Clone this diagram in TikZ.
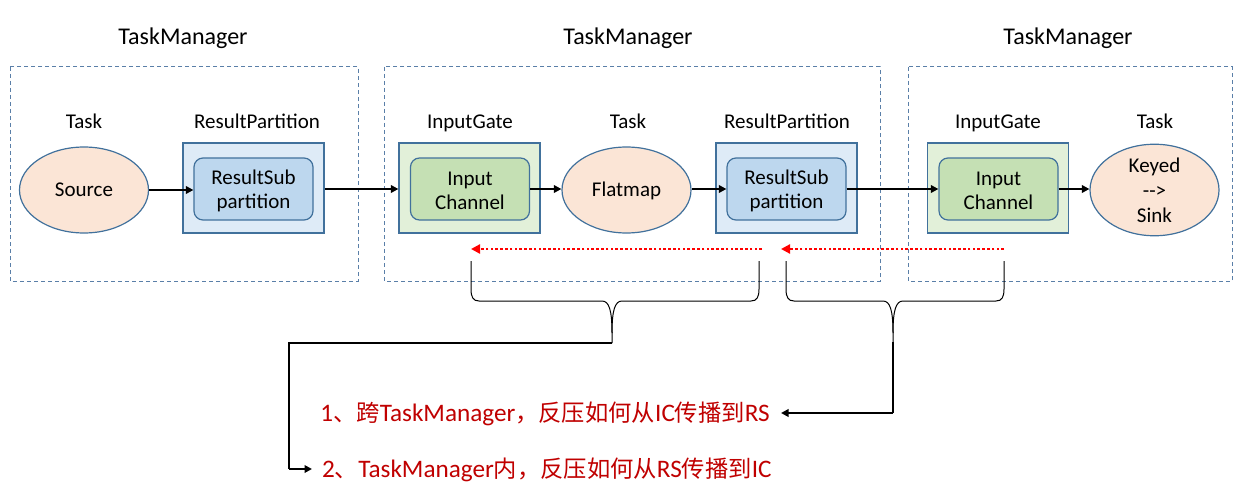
\documentclass[tikz,border=0pt]{standalone}
\usepackage{fontspec}
\setmainfont{Carlito}
\newfontfamily\cjk{Noto Sans CJK SC}
\usetikzlibrary{arrows.meta,shapes.geometric}
\definecolor{bordc}{HTML}{41719C}
\definecolor{dashc}{HTML}{5A7FA8}
\definecolor{peach}{HTML}{FBE5D6}
\definecolor{blueout}{HTML}{DEEBF7}
\definecolor{bluein}{HTML}{BDD7EE}
\definecolor{greenout}{HTML}{E2F0D9}
\definecolor{greenin}{HTML}{C5E0B4}
\definecolor{darkred}{HTML}{C00000}
\newcommand\zh[1]{{\fontsize{23.3}{26}\cjk #1}}
\tikzset{
  tmbox/.style={draw=dashc, line width=1pt, dash pattern=on 4pt off 3pt},
  tmlabel/.style={font=\fontsize{24}{28}\selectfont, inner sep=0pt, anchor=base},
  sublabel/.style={font=\fontsize{21}{24}\selectfont, inner sep=0pt, anchor=base},
  taskell/.style={ellipse, draw=bordc, fill=peach, line width=1.2pt, minimum width=129pt, minimum height=86pt, inner sep=0pt, align=center, font=\fontsize{21}{25}\selectfont},
  oneline/.style={text height=13.5pt, text depth=0pt},
  outerblue/.style={rectangle, draw=bordc, fill=blueout, line width=1.2pt, minimum width=141pt, minimum height=90pt, inner sep=0pt},
  outergreen/.style={rectangle, draw=bordc, fill=greenout, line width=1.2pt, minimum width=141pt, minimum height=90pt, inner sep=0pt},
  innerblue/.style={rectangle, rounded corners=9pt, draw=bordc, fill=bluein, line width=1.2pt, minimum width=119pt, minimum height=62pt, inner sep=0pt},
  innergreen/.style={rectangle, rounded corners=9pt, draw=bordc, fill=greenin, line width=1.2pt, minimum width=119pt, minimum height=62pt, inner sep=0pt},
  boxtext/.style={inner sep=0pt, align=center, font=\fontsize{21}{24}\selectfont},
  flow/.style={draw=black, line width=2pt, -{Triangle[length=7.5pt,width=7.5pt]}},
  back/.style={draw=red, line width=2.6pt, dash pattern=on 2.6pt off 2.2pt, -{Triangle[length=9pt,width=9pt]}},
  bracel/.style={draw=black, line width=1pt},
  link/.style={draw=black, line width=2.2pt},
  note/.style={text=darkred, font=\fontsize{25.2}{28}\selectfont, inner ysep=0pt, inner xsep=0pt}
}
\begin{document}
\begin{tikzpicture}[x=1pt,y=-1pt]
\useasboundingbox (0,0) rectangle (1250,484);
\fill[white] (0,0) rectangle (1250,484);

% TaskManager boxes
\draw[tmbox] (10,67) rectangle (358,281);
\draw[tmbox] (384,67) rectangle (880,281);
\draw[tmbox] (908,67) rectangle (1232,281);
\node[tmlabel] (tm1) at (183,44.7) {TaskManager};
\node[tmlabel] (tm2) at (628,44.7) {TaskManager};
\node[tmlabel] (tm3) at (1068,44.7) {TaskManager};

% labels
\node[sublabel] (l1) at (84,128.8) {Task};
\node[sublabel] (l2) at (257,128.8) {ResultPartition};
\node[sublabel] (l3) at (470,128.8) {InputGate};
\node[sublabel] (l4) at (628,128.8) {Task};
\node[sublabel] (l5) at (787,128.8) {ResultPartition};
\node[sublabel] (l6) at (998,128.8) {InputGate};
\node[sublabel] (l7) at (1155,128.8) {Task};

% TM1
\node[taskell, oneline] (src) at (84,190) {Source};
\node[outerblue] (rp1) at (253.5,188) {};
\node[innerblue] (rs1) at (253.5,189) {};
\node[boxtext] (rs1t) at (253.5,191) {ResultSub\\partition};

% TM2
\node[outergreen] (ig2) at (469.5,188) {};
\node[innergreen] (ic2) at (470,189) {};
\node[boxtext] (ic2t) at (470,191) {Input\\Channel};
\node[taskell, oneline] (fm) at (626.5,190) {Flatmap};
\node[outerblue] (rp2) at (786.5,188) {};
\node[innerblue] (rs2) at (786.5,189) {};
\node[boxtext] (rs2t) at (786.5,191) {ResultSub\\partition};

% TM3
\node[outergreen] (ig3) at (998,188) {};
\node[innergreen] (ic3) at (998.5,189) {};
\node[boxtext] (ic3t) at (998.5,191) {Input\\Channel};
\node[taskell] (snk) at (1154.5,190) {Keyed\\-\kern0pt-\kern0pt>\\Sink};

% flow arrows
\draw[flow] (src.east |- 0,190) -- (rs1.west |- 0,190);
\draw[flow] (rp1.east |- 0,189) -- (ig2.west |- 0,189);
\draw[flow] (ic2.east |- 0,189) -- (fm.west |- 0,189);
\draw[flow] (fm.east |- 0,189) -- (rs2.west |- 0,189);
\draw[flow] (rs2.east |- 0,189) -- (ic3.west |- 0,189);
\draw[flow] (ic3.east |- 0,189) -- (snk.west |- 0,189);

% backpressure arrows
\coordinate (b1s) at (762,249);
\coordinate (b1e) at (471,249);
\coordinate (b2s) at (1004,249);
\coordinate (b2e) at (781,249);
\draw[back] (b1s) -- (b1e);
\draw[back] (b2s) -- (b2e);

% braces
\draw[bracel] (471,261) -- (471,289) .. controls (471,297) and (473,301) .. (479,301) -- (602,301)
  .. controls (609,301) and (612,310) .. (612,333) -- (612,343);
\draw[bracel] (612,333) .. controls (612,310) and (615,301) .. (622,301) -- (751,301)
  .. controls (757,301) and (759,297) .. (759,289) -- (759,261);
\draw[bracel] (786,261) -- (786,289) .. controls (786,297) and (788,301) .. (794,301) -- (883,301)
  .. controls (890,301) and (893,310) .. (893,333) -- (893,343);
\draw[bracel] (893,333) .. controls (893,310) and (896,301) .. (903,301) -- (996,301)
  .. controls (1002,301) and (1004,297) .. (1004,289) -- (1004,261);
\coordinate (t1) at (612,343);
\coordinate (t2) at (893,342);

% notes
\node[note, anchor=base east] (n1) at (770,421.5) {1\zh{、跨}TaskManager\zh{，反压如何从}IC\zh{传播到}RS};
\node[note, anchor=base west] (n2) at (322,477.5) {2\zh{、}TaskManager\zh{内，反压如何从}RS\zh{传播到}IC};

\draw[link] (t1) -- (289,343) -- (289,469) coordinate (c2);
\draw[flow, line width=2.2pt] (c2) -- (312,469) coordinate (c2e);
\draw[link] (t2) -- (893,413) coordinate (c1);
\draw[flow, line width=2.2pt] (c1) -- (781,413) coordinate (c1e);
\end{tikzpicture}
\end{document}
